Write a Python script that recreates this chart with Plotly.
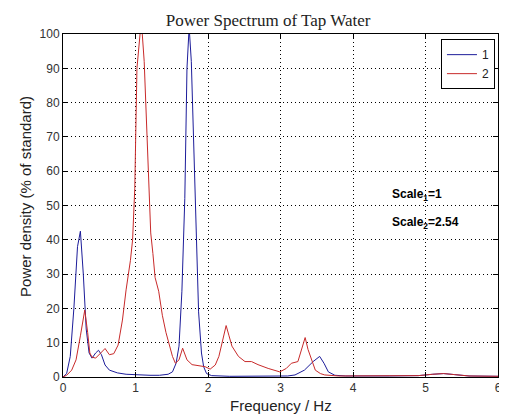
import plotly.graph_objects as go

# ---- data ----
freq_1 = [0.0, 0.05, 0.10, 0.15, 0.20, 0.24, 0.28, 0.32, 0.36, 0.40, 0.45, 0.49, 0.53, 0.58,
          0.64, 0.75, 0.87, 1.0, 1.2, 1.33, 1.45, 1.51, 1.56, 1.60, 1.64, 1.68, 1.71, 1.74,
          1.77, 1.80, 1.83, 1.87, 1.91, 1.94, 1.98, 2.05, 2.3, 2.8, 3.1, 3.2, 3.33, 3.45,
          3.54, 3.6, 3.66, 3.75, 3.9, 4.5, 4.9, 5.1, 5.25, 5.4, 5.6, 6.0]
power_1 = [0, 1, 6, 20, 38, 42.5, 30, 14, 7, 5.5, 7, 7.8, 6.5, 3.5,
           2, 1.2, 0.8, 0.6, 0.5, 0.5, 0.8, 1.5, 4, 9, 25, 52, 90, 102,
           92, 70, 50, 19, 7, 3, 1, 0.4, 0.2, 0.2, 0.3, 0.6, 2, 4.5,
           6, 4, 1.5, 0.5, 0.3, 0.3, 0.4, 0.8, 1, 0.7, 0.3, 0.2]

freq_2 = [0.0, 0.05, 0.12, 0.18, 0.24, 0.30, 0.34, 0.37, 0.40, 0.45, 0.52, 0.58, 0.64, 0.70,
          0.76, 0.82, 0.87, 0.93, 0.96, 0.99, 1.02, 1.08, 1.12, 1.18, 1.21, 1.24, 1.27, 1.32,
          1.37, 1.42, 1.46, 1.51, 1.55, 1.60, 1.65, 1.71, 1.78, 1.87, 1.96, 2.03, 2.10, 2.15,
          2.20, 2.25, 2.29, 2.33, 2.42, 2.51, 2.60, 2.69, 2.83, 2.99, 3.08, 3.15, 3.24, 3.30,
          3.34, 3.38, 3.42, 3.48, 3.55, 3.61, 3.8, 4.5, 4.9, 5.1, 5.25, 5.4, 5.6, 6.0]
power_2 = [0, 0.5, 2, 5, 12, 19.5, 13, 7, 5.8, 5.5, 7, 8.3, 6.5, 6.8,
           9.3, 16.6, 25.4, 34, 40, 55, 90, 104, 92, 55, 42, 36, 29, 25,
           18, 13, 10, 6, 4, 5, 8.4, 5, 3.6, 3.2, 3, 2.3, 3.5, 6,
           11, 15, 12, 9, 6, 4.5, 4.5, 3.6, 2.5, 1.5, 2.5, 4, 4.5, 9,
           11.5, 8, 5.5, 2, 1, 0.6, 0.3, 0.3, 0.4, 0.8, 1, 0.7, 0.3, 0.2]

series_names = ["1", "2"]
x_range = [0, 6]
y_range = [0, 100]
x_dtick = 1
y_dtick = 10

title_text = "Power Spectrum of Tap Water"
x_title = "Frequency / Hz"
y_title = "Power density (% of standard)"
scale_notes = ["Scale<sub>1</sub>=1", "Scale<sub>2</sub>=2.54"]
scale_note_x = [4.51, 4.51]
scale_note_y = [53, 45]

SANS = "Liberation Sans, Arial, sans-serif"

# The page body keeps its default 8px margin, so the figure is sized to fit
# the 507x419 window from that offset.
FIG_W, FIG_H = 499, 411

# ---- figure ----
fig = go.Figure()
fig.add_trace(go.Scatter(x=freq_1, y=power_1, mode="lines", name=series_names[0],
                         line=dict(color="#1c1c9a", width=1)))
fig.add_trace(go.Scatter(x=freq_2, y=power_2, mode="lines", name=series_names[1],
                         line=dict(color="#c82a2a", width=1)))

axis_common = dict(
    showline=True, linecolor="black", linewidth=1, mirror="ticks",
    ticks="inside", ticklen=5, tickcolor="black",
    showgrid=True, gridcolor="black", gridwidth=1, griddash="1px,3px",
    zeroline=False, ticklabeloverflow="allow", tickmode="linear", tick0=0,
    tickfont=dict(family=SANS, size=12, color="#333333"),
)

fig.update_xaxes(range=x_range, dtick=x_dtick, **axis_common)
fig.update_yaxes(range=y_range, dtick=y_dtick, **axis_common)

annotations = []
for txt, xv, yv in zip(scale_notes, scale_note_x, scale_note_y):
    annotations.append(dict(x=xv, y=yv, xref="x", yref="y", text="<b>" + txt + "</b>",
                            showarrow=False, xanchor="left", yanchor="middle",
                            font=dict(family=SANS, size=12, color="black")))
annotations.append(dict(x=0.5, y=0, xref="paper", yref="paper", text=x_title, showarrow=False,
                        xanchor="center", yanchor="middle", yshift=-28,
                        font=dict(family=SANS, size=15, color="#222222")))
annotations.append(dict(x=0, y=0.525, xref="paper", yref="paper", text=y_title, showarrow=False,
                        xanchor="center", yanchor="middle", xshift=-37, textangle=-90,
                        font=dict(family=SANS, size=15, color="#222222")))

fig.update_layout(
    width=FIG_W, height=FIG_H,
    margin=dict(l=55, r=5, t=26, b=42),
    paper_bgcolor="white", plot_bgcolor="white",
    title=dict(text=title_text, x=0.4715, xref="paper", xanchor="center",
               y=1 - 12 / FIG_H, yref="container", yanchor="middle",
               font=dict(family="Liberation Serif, Times New Roman, serif", size=17, color="#222222")),
    showlegend=True,
    legend=dict(x=0.993, y=0.985, xanchor="right", yanchor="top",
                bgcolor="white", bordercolor="black", borderwidth=1,
                font=dict(family=SANS, size=12, color="#222222"),
                itemwidth=30, tracegroupgap=0),
    annotations=annotations,
)

fig.write_html("out.html")
